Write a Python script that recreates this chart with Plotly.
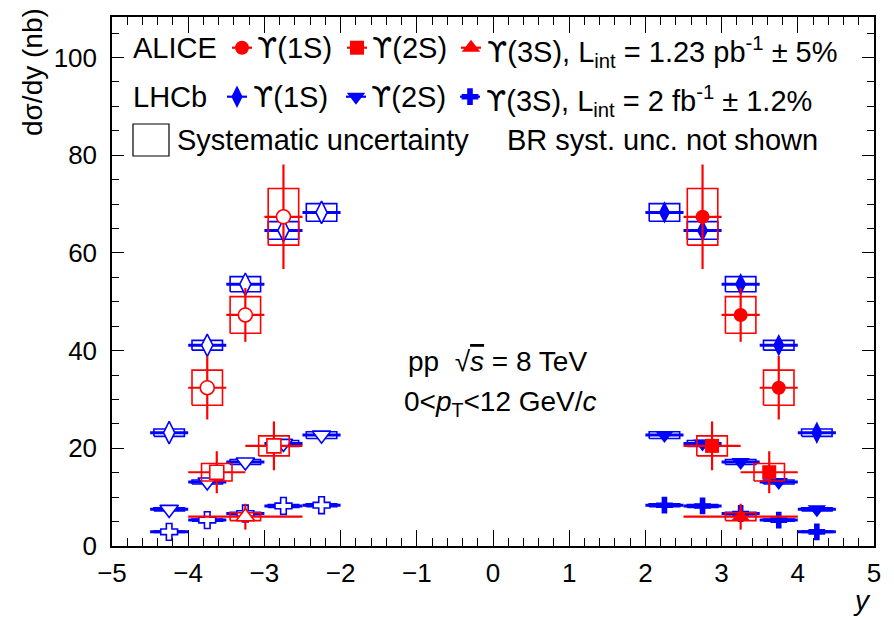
import plotly.graph_objects as go

# ---------------- data ----------------
# ALICE (2.5 < y < 4), mirrored to negative y with open markers
alice_1s_y = [2.75, 3.25, 3.75]
alice_1s_val = [67.4, 47.3, 32.4]
alice_1s_stat = [10.7, 5.5, 6.5]
alice_1s_sys = [5.8, 3.75, 3.6]
alice_1s_xerr = [0.25, 0.25, 0.25]

alice_2s_y = [2.875, 3.625]
alice_2s_val = [20.5, 15.1]
alice_2s_stat = [5.0, 4.3]
alice_2s_sys = [2.05, 1.8]
alice_2s_xerr = [0.375, 0.375]

alice_3s_y = [3.25]
alice_3s_val = [6.0]
alice_3s_stat = [2.65]
alice_3s_sys = [0.8]
alice_3s_xerr = [0.75]

# LHCb (2 < y < 4.5)
lhcb_y = [2.25, 2.75, 3.25, 3.75, 4.25]
lhcb_xerr = [0.25, 0.25, 0.25, 0.25, 0.25]
lhcb_1s_val = [68.3, 64.6, 53.6, 41.1, 23.2]
lhcb_1s_stat = [0.4, 0.4, 0.35, 0.3, 0.3]
lhcb_1s_sys = [1.8, 1.8, 1.55, 1.0, 0.75]
lhcb_2s_val = [22.7, 21.0, 17.2, 13.1, 7.5]
lhcb_2s_stat = [0.25, 0.25, 0.2, 0.2, 0.15]
lhcb_2s_sys = [0.7, 0.6, 0.5, 0.4, 0.3]
lhcb_3s_val = [8.35, 8.2, 6.65, 5.3, 2.9]
lhcb_3s_stat = [0.15, 0.15, 0.12, 0.1, 0.1]
lhcb_3s_sys = [0.3, 0.3, 0.25, 0.2, 0.15]

x_ticks = [-5, -4, -3, -2, -1, 0, 1, 2, 3, 4, 5]
y_ticks = [0, 20, 40, 60, 80, 100]

# ---------------- style ----------------
RED = "rgb(255,0,0)"
BLUE = "rgb(0,0,255)"
FONT = "Liberation Sans, Arial, sans-serif"
BOX_HW = 0.2          # half width of systematic boxes (in rapidity units)

PL, PR, PT, PB = 112, 874, 17, 546   # plot area in pixels
W, H = 894, 620

fig = go.Figure()


def boxes(xs, vals, sys, sign, color):
    bx, by = [], []
    for x, v, s in zip(xs, vals, sys):
        xc = sign * x
        bx += [xc - BOX_HW, xc + BOX_HW, xc + BOX_HW, xc - BOX_HW, xc - BOX_HW, None]
        by += [v - s, v - s, v + s, v + s, v - s, None]
    fig.add_trace(go.Scatter(x=bx, y=by, mode="lines", line=dict(color=color, width=1.6),
                             hoverinfo="skip", showlegend=False))


def points(xs, vals, stat, xerr, sign, color, symbol, size, open_, ethick):
    fig.add_trace(go.Scatter(
        x=[sign * x for x in xs], y=vals, mode="markers",
        marker=dict(symbol=symbol, size=size,
                    color="white" if open_ else color,
                    line=dict(color=color, width=1.6 if open_ else 0)),
        error_y=dict(type="data", array=stat, color=color, thickness=ethick, width=0),
        error_x=dict(type="data", array=xerr, color=color, thickness=ethick, width=0),
        showlegend=False))


for sign in (1, -1):
    op = sign < 0
    # LHCb
    boxes(lhcb_y, lhcb_1s_val, lhcb_1s_sys, sign, BLUE)
    boxes(lhcb_y, lhcb_2s_val, lhcb_2s_sys, sign, BLUE)
    boxes(lhcb_y, lhcb_3s_val, lhcb_3s_sys, sign, BLUE)
    points(lhcb_y, lhcb_1s_val, lhcb_1s_stat, lhcb_xerr, sign, BLUE, "diamond-tall", 16, op, 3)
    points(lhcb_y, lhcb_2s_val, lhcb_2s_stat, lhcb_xerr, sign, BLUE, "triangle-down", 16, op, 3)
    points(lhcb_y, lhcb_3s_val, lhcb_3s_stat, lhcb_xerr, sign, BLUE, "cross", 14, op, 3)
    # ALICE
    boxes(alice_1s_y, alice_1s_val, alice_1s_sys, sign, RED)
    boxes(alice_2s_y, alice_2s_val, alice_2s_sys, sign, RED)
    boxes(alice_3s_y, alice_3s_val, alice_3s_sys, sign, RED)
    points(alice_1s_y, alice_1s_val, alice_1s_stat, alice_1s_xerr, sign, RED, "circle", 14, op, 2.2)
    points(alice_2s_y, alice_2s_val, alice_2s_stat, alice_2s_xerr, sign, RED, "square", 14, op, 2.2)
    points(alice_3s_y, alice_3s_val, alice_3s_stat, alice_3s_xerr, sign, RED, "triangle-up", 16, op, 2.2)

# ---------------- legend (drawn on a pixel overlay axis) ----------------
leg_rows = [
    # (marker x, y, symbol, size, color)
    (242, 47.7, "circle", 14, RED),
    (357, 47.7, "square", 14, RED),
    (471, 47.7, "triangle-up", 16, RED),
    (237, 96.7, "diamond-tall", 16, BLUE),
    (356, 96.7, "triangle-down", 16, BLUE),
    (470, 96.7, "cross", 14, BLUE),
]
for mx, my, sym, sz, col in leg_rows:
    fig.add_trace(go.Scatter(x=[mx - 10, mx + 10], y=[my, my], mode="lines",
                             line=dict(color=col, width=2.2), xaxis="x2", yaxis="y2",
                             hoverinfo="skip", showlegend=False))
    fig.add_trace(go.Scatter(x=[mx], y=[my], mode="markers",
                             marker=dict(symbol=sym, size=sz, color=col, line=dict(width=0)),
                             xaxis="x2", yaxis="y2", hoverinfo="skip", showlegend=False))

fig.add_shape(type="rect", xref="x2", yref="y2", x0=133, x1=169, y0=124, y1=156,
              line=dict(color="black", width=1.2))

annots = []


def txt(px, py, s, size=29, xanchor="left", yanchor="middle", **kw):
    annots.append(dict(x=(px - PL) / (PR - PL), y=(PB - py) / (PB - PT), xref="paper", yref="paper",
                       text=s, showarrow=False, xanchor=xanchor, yanchor=yanchor,
                       font=dict(family=FONT, size=size, color="black"), **kw))


U = "<span style='font-family:DejaVu Sans'>\u03d2</span>"
txt(131, 48, "ALICE")
txt(255, 48, U + "(1S)")
txt(370, 48, U + "(2S)")
txt(485, 52, U + "(3S), L<sub>int</sub> = 1.23 pb<sup>-1</sup> \u00b1 5%")
txt(131, 97, "LHCb")
txt(251, 97, U + "(1S)")
txt(369, 97, U + "(2S)")
txt(484, 101, U + "(3S), L<sub>int</sub> = 2 fb<sup>-1</sup> \u00b1 1.2%")
txt(175, 140, "Systematic uncertainty")
txt(505, 140, "BR syst. unc. not shown")

txt(498, 361, "pp  \u221a<span style='text-decoration:overline'><i>s</i></span> = 8 TeV",
    size=28, xanchor="center")
txt(500, 403, "0&lt;<i>p</i><sub>T</sub>&lt;12 GeV/<i>c</i>", size=28, xanchor="center")

# axis titles
txt(32, 6, "d\u03c3/dy (nb)", size=28, xanchor="center", yanchor="top", textangle=-90)
txt(862, 600, "<i>y</i>", size=28, xanchor="center")

axis_common = dict(showline=True, linecolor="black", linewidth=1.5, mirror="ticks",
                   ticks="inside", tickcolor="black", tickwidth=1.2, showgrid=False,
                   zeroline=False, tickfont=dict(family=FONT, size=26, color="black"))

fig.update_layout(
    width=W, height=H,
    margin=dict(l=PL, r=W - PR, t=PT, b=H - PB),
    paper_bgcolor="white", plot_bgcolor="white",
    xaxis=dict(range=[-5, 5], tickvals=x_ticks, ticklen=16, ticklabelstandoff=3,
               minor=dict(dtick=0.2, ticklen=8, ticks="inside", tickcolor="black", tickwidth=1.2, showgrid=False),
               **axis_common),
    yaxis=dict(range=[0, 108.3], tickvals=y_ticks, ticklen=12, ticklabelstandoff=8,
               minor=dict(dtick=5, ticklen=7, ticks="inside", tickcolor="black", tickwidth=1.2, showgrid=False),
               **axis_common),
    xaxis2=dict(overlaying="x", range=[PL, PR], visible=False),
    yaxis2=dict(overlaying="y", range=[PB, PT], visible=False),
    annotations=annots,
    showlegend=False,
)

fig.write_html("out.html")
